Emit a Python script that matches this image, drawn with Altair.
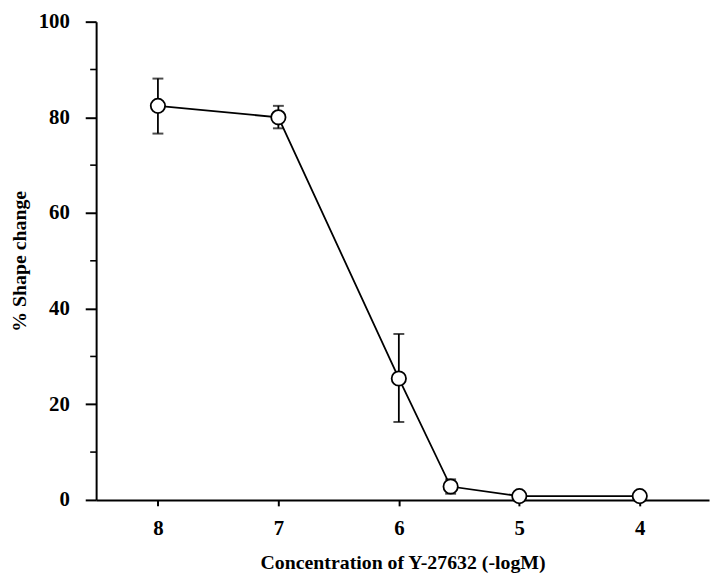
import altair as alt
import pandas as pd

# Data
conc = [8, 7, 6, 5.57, 5, 4]            # -log M
shape = [82.4, 80.0, 25.4, 2.8, 0.8, 0.8]  # % shape change
err_lo = [76.6, 77.7, 16.3, 1.3, 0.8, 0.8]
err_hi = [88.1, 82.4, 34.7, 4.3, 0.8, 0.8]
x_ticks = [8, 7, 6, 5, 4]
y_ticks = [0, 20, 40, 60, 80, 100]
y_minor = [10, 30, 50, 70, 90]

df = pd.DataFrame({"conc": conc, "shape": shape, "lo": err_lo, "hi": err_hi})
df_err = df[df["hi"] > df["lo"]]
df_minor = pd.DataFrame({"v": y_minor})

FONT = "Liberation Serif"

xscale = alt.Scale(domain=[3.425, 8.513], reverse=True, nice=False, zero=False)
yscale = alt.Scale(domain=[0, 100], nice=False)

x_enc = alt.X(
    "conc:Q", scale=xscale,
    axis=alt.Axis(values=x_ticks, title="Concentration of Y-27632 (-logM)",
                  grid=False, tickSize=6, labelPadding=12, titlePadding=14,
                  format="d"),
)
y_enc = alt.Y(
    "shape:Q", scale=yscale,
    axis=alt.Axis(values=y_ticks, title="% Shape change", grid=False,
                  tickSize=11, labelPadding=16, titlePadding=9),
)

line = alt.Chart(df).mark_line(color="black", strokeWidth=1.8).encode(x=x_enc, y=y_enc)

err_rule = alt.Chart(df_err).mark_rule(color="black", strokeWidth=1.8).encode(
    x="conc:Q", y="lo:Q", y2="hi:Q"
)
cap_lo = alt.Chart(df_err).mark_tick(color="black", thickness=2, size=11, orient="horizontal").encode(
    x="conc:Q", y="lo:Q"
)
cap_hi = alt.Chart(df_err).mark_tick(color="black", thickness=2, size=11, orient="horizontal").encode(
    x="conc:Q", y="hi:Q"
)
points = alt.Chart(df).mark_point(
    shape="circle", size=210, filled=True, fill="white", stroke="black",
    strokeWidth=1.8, opacity=1
).encode(x="conc:Q", y="shape:Q")

minor = alt.Chart(df_minor).mark_rule(color="black", strokeWidth=1.6).encode(
    y=alt.Y("v:Q", scale=yscale), x=alt.value(-6), x2=alt.value(0)
)

chart = alt.layer(line, err_rule, cap_lo, cap_hi, points, minor).properties(
    width=619, height=483,
    autosize=alt.AutoSizeParams(type="none"),
    padding={"left": 89, "top": 11, "right": 3, "bottom": 71},
).configure_view(stroke=None).configure_axis(
    domainColor="black", domainWidth=2, tickColor="black", tickWidth=2,
    labelFont=FONT, labelFontSize=21, labelFontWeight="bold", labelColor="black",
    titleFont=FONT, titleFontSize=20, titleFontWeight="bold", titleColor="black",
)

chart.save("out.html", embed_options={"renderer": "svg", "actions": False})
